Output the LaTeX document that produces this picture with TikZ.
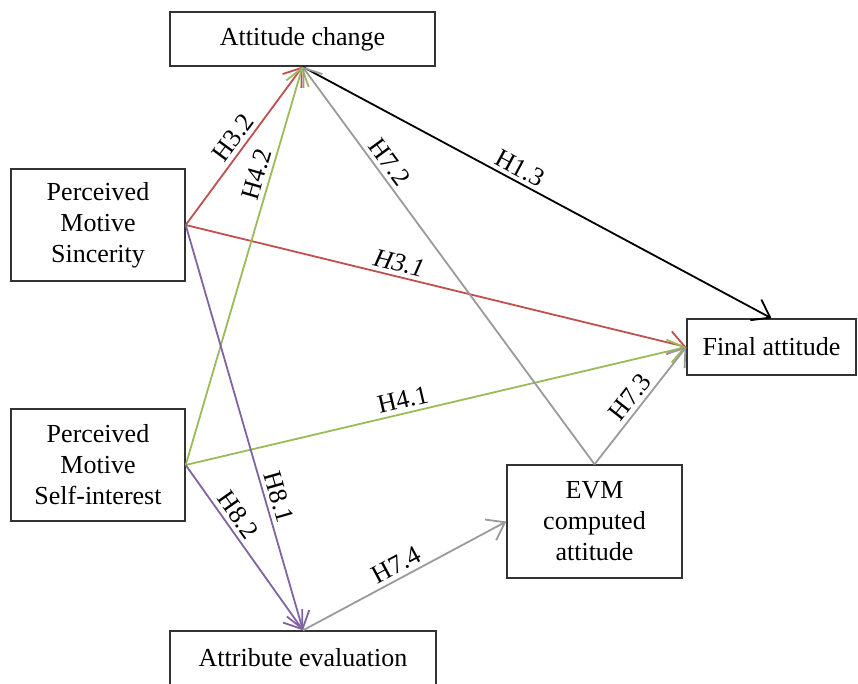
\documentclass[tikz,border=0pt]{standalone}
\usepackage{fontspec}
\setmainfont{Liberation Serif}
\usetikzlibrary{arrows.meta}
\definecolor{hred}{HTML}{C0504D}
\definecolor{hgreen}{HTML}{9BBB59}
\definecolor{hpurple}{HTML}{8064A2}
\definecolor{hgray}{HTML}{9A9A9A}
\begin{document}
\begin{tikzpicture}[x=1pt,y=-1pt,
  box/.style={draw=black!80, line width=1.4pt, fill=white, align=center,
    inner sep=0pt, font=\fontsize{26}{31}\selectfont},
  link/.style={line width=1.8pt, -{Straight Barb[length=9pt, width=13pt, scale=1.8]}},
  lab/.style={sloped, above, inner sep=4pt, font=\fontsize{26}{31}\selectfont}]
\useasboundingbox (0,0) rectangle (858,683);
\begin{scope}
\clip (0,0) rectangle (858,683);
% variables
\node[box, minimum width=265pt, minimum height=54pt] (att) at (302.5,39) {Attitude change};
\node[box, minimum width=174pt, minimum height=112pt] (sinc) at (98,225) {Perceived\\Motive\\Sincerity};
\node[box, minimum width=174pt, minimum height=112pt] (self) at (98,465) {Perceived\\Motive\\Self-interest};
\node[box, minimum width=169pt, minimum height=56pt] (fin) at (771.5,347) {Final attitude};
\node[box, minimum width=175pt, minimum height=113pt] (evm) at (594.5,521.5) {EVM\\computed\\attitude};
\node[box, minimum width=266pt, minimum height=54pt] (attr) at (303,658) {Attribute evaluation};
% hypothesised paths
\draw[link, black] (att.south) -- node[lab, pos=0.45] {H1.3} (fin.north);
\draw[link, hred] (sinc.east) -- node[lab, pos=0.5, text=black] {H3.2} (att.south);
\draw[link, hred] (sinc.east) -- node[lab, pos=0.42, text=black, font=\fontsize{26}{31}\selectfont\itshape] {H3.1} (fin.west);
\draw[link, hgreen] (self.east) -- node[lab, pos=0.72, text=black] {H4.2} (att.south);
\draw[link, hgreen] (self.east) -- node[lab, pos=0.44, text=black] {H4.1} (fin.west);
\draw[link, hpurple] (sinc.east) -- node[lab, pos=0.68, text=black] {H8.1} (attr.north);
\draw[link, hpurple] (self.east) -- node[lab, pos=0.35, text=black] {H8.2} (attr.north);
\draw[link, hgray] (evm.north) -- node[lab, pos=0.74, text=black] {H7.2} (att.south);
\draw[link, hgray] (evm.north) -- node[lab, pos=0.5, text=black] {H7.3} (fin.west);
\draw[link, hgray] (attr.north) -- node[lab, pos=0.49, text=black] {H7.4} (evm.west);
\end{scope}
\end{tikzpicture}
\end{document}
